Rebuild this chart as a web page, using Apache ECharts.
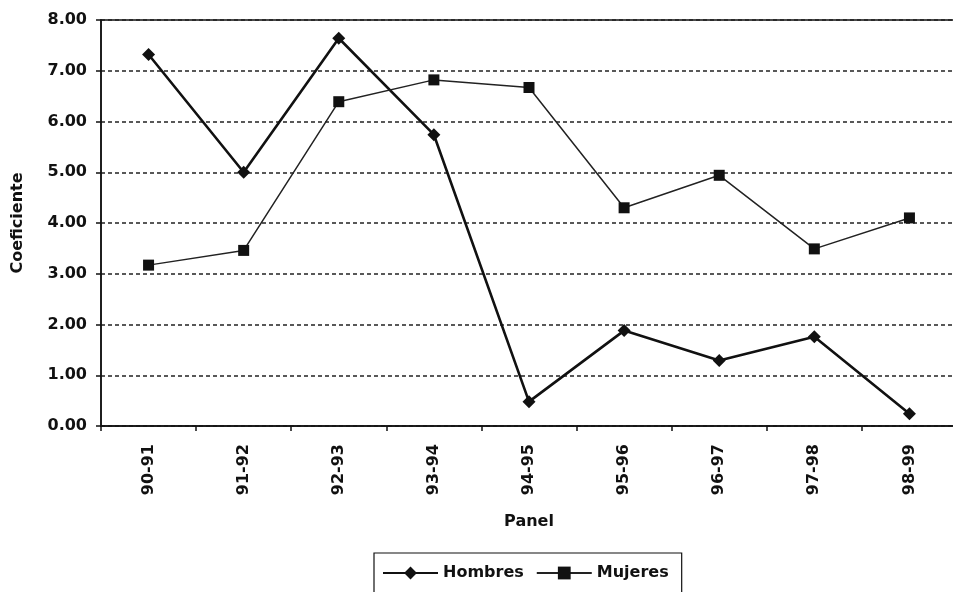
<!DOCTYPE html>
<html>
<head>
<meta charset="utf-8">
<script src="https://cdn.jsdelivr.net/npm/echarts@6/dist/echarts.min.js"></script>
<style>
  html, body { margin: 0; padding: 0; background: #fff; }
  #chart { width: 953px; height: 592px; }
</style>
</head>
<body>
<div id="chart"></div>
<script>
// categorias (panel) y coeficientes
let panels = ['90-91', '91-92', '92-93', '93-94', '94-95', '95-96', '96-97', '97-98', '98-99'];
let hombres = [7.32, 5.00, 7.64, 5.74, 0.48, 1.88, 1.29, 1.76, 0.24];
let mujeres = [3.17, 3.46, 6.39, 6.82, 6.67, 4.30, 4.94, 3.49, 4.10];
let yTicks = [0, 8, 1]; // min, max, interval

let font = 'DejaVu Sans';
let myChart = echarts.init(document.getElementById('chart'));
myChart.setOption({
    animation: false,
    backgroundColor: '#fff',
    grid: {
        left: 101,
        top: 20,
        width: 856,
        bottom: 166,
        outerBoundsMode: 'none',
        containLabel: false,
        show: true,
        borderColor: '#111',
        borderWidth: 1.5
    },
    legend: {
        data: ['Hombres', 'Mujeres'],
        left: 374,
        top: 553,
        padding: [12, 13, 20, 8],
        borderColor: '#111',
        borderWidth: 1.2,
        itemWidth: 55,
        itemHeight: 16,
        itemGap: 12,
        textStyle: { fontFamily: font, fontWeight: 'bold', fontSize: 16, color: '#111' }
    },
    xAxis: {
        type: 'category',
        data: panels,
        boundaryGap: true,
        name: 'Panel',
        nameLocation: 'middle',
        nameGap: 88,
        nameTextStyle: { fontFamily: font, fontWeight: 'bold', fontSize: 16, color: '#111' },
        axisLine: { lineStyle: { color: '#111', width: 1.5 } },
        axisTick: { show: true, length: 5, lineStyle: { color: '#111', width: 1.5 } },
        axisLabel: { rotate: 90, margin: 18, fontFamily: font, fontWeight: 'bold', fontSize: 16, color: '#111' },
        splitLine: { show: false }
    },
    yAxis: {
        type: 'value',
        min: yTicks[0],
        max: yTicks[1],
        interval: yTicks[2],
        name: 'Coeficiente',
        nameLocation: 'middle',
        nameGap: 75,
        nameRotate: 90,
        nameTextStyle: { fontFamily: font, fontWeight: 'bold', fontSize: 16, color: '#111' },
        axisLine: { show: true, lineStyle: { color: '#111', width: 1.5 } },
        axisTick: { show: true, length: 5, lineStyle: { color: '#111', width: 1.5 } },
        axisLabel: {
            margin: 14,
            fontFamily: font, fontWeight: 'bold', fontSize: 16, color: '#111',
            formatter: function (v) { return v.toFixed(2); }
        },
        splitLine: { show: true, lineStyle: { color: '#222', width: 1.6, type: [4, 3] } }
    },
    series: [
        {
            name: 'Hombres',
            type: 'line',
            data: hombres,
            symbol: 'diamond',
            symbolSize: 13,
            showAllSymbol: true,
            itemStyle: { color: '#111' },
            lineStyle: { color: '#111', width: 2.6 }
        },
        {
            name: 'Mujeres',
            type: 'line',
            data: mujeres,
            symbol: 'rect',
            symbolSize: 11,
            showAllSymbol: true,
            itemStyle: { color: '#111' },
            lineStyle: { color: '#222', width: 1.5 }
        }
    ]
});
</script>
</body>
</html>
